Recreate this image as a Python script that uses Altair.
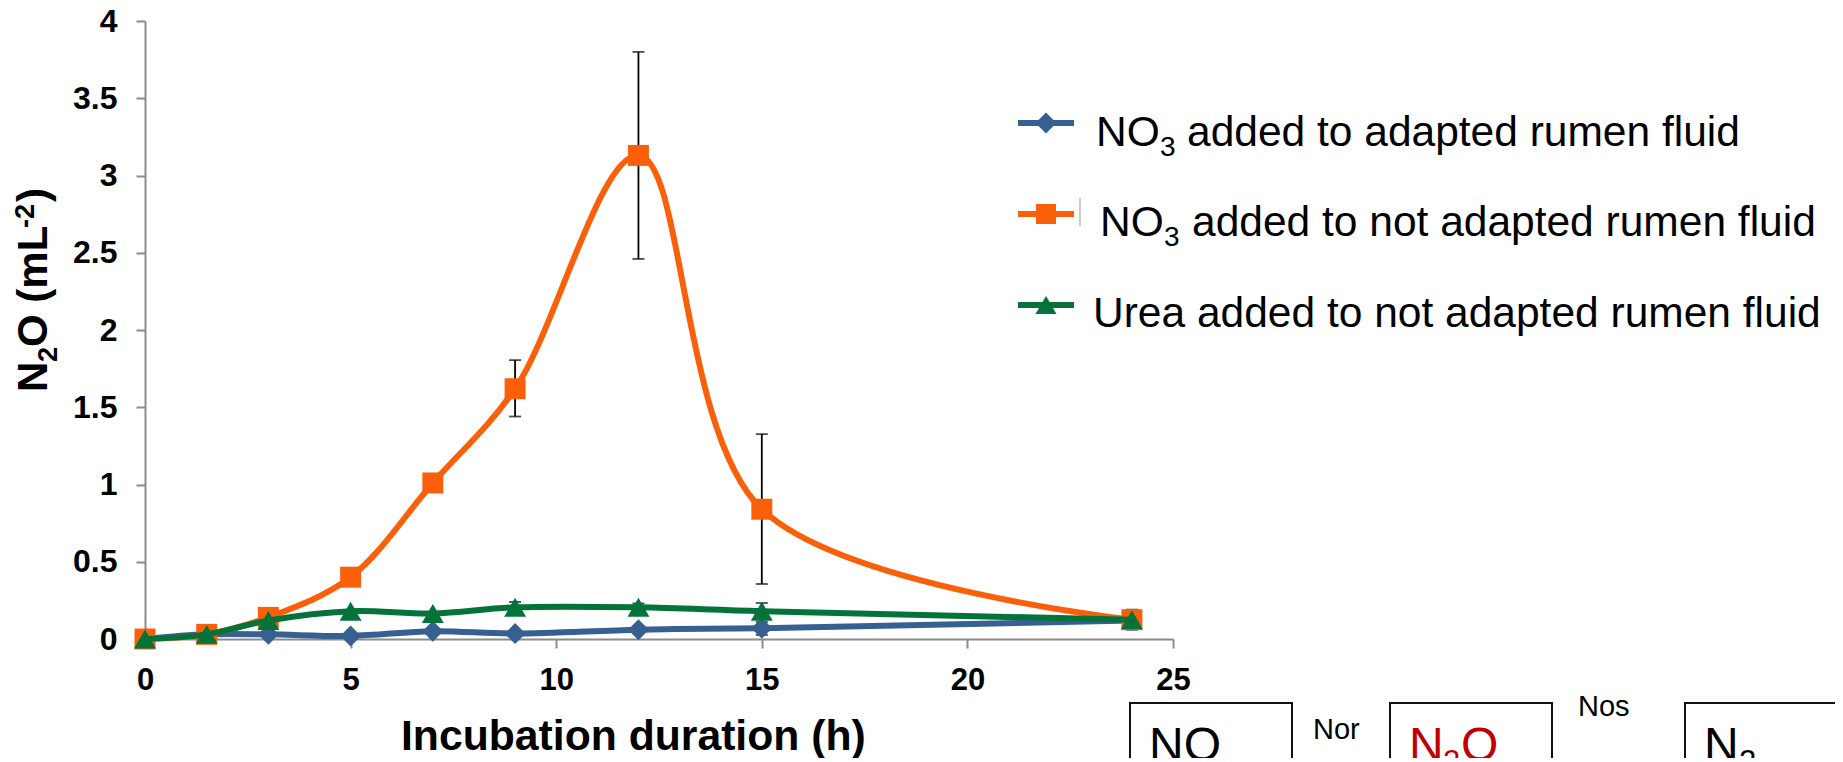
import altair as alt
import pandas as pd

hours = [0, 1.5, 3, 5, 7, 9, 12, 15, 24]
adapted = [0.0, 0.03, 0.03, 0.02, 0.05, 0.035, 0.06, 0.07, 0.12]
not_adapted = [0.0, 0.03, 0.14, 0.40, 1.01, 1.62, 3.13, 0.84, 0.125]
urea = [0.0, 0.03, 0.12, 0.18, 0.165, 0.205, 0.205, 0.18, 0.125]

err_x = [9, 12, 15, 9, 12, 15, 15, 24]
err_lo = [1.44, 2.46, 0.356, 0.17, 0.18, 0.13, 0.026, 0.06]
err_hi = [1.805, 3.80, 1.326, 0.24, 0.23, 0.233, 0.11, 0.19]

y_ticks = [0, 0.5, 1, 1.5, 2, 2.5, 3, 3.5, 4]
x_ticks = [0, 5, 10, 15, 20, 25]

BLUE, ORANGE, GREEN = "#376092", "#FA600A", "#03733A"
FONT = "Liberation Sans"
OX, OY = 145, 21
PW, PH = 1028, 618
one = pd.DataFrame({"a": [0]})

xs = alt.Scale(domain=[0, 25], nice=False, zero=False)
ys = alt.Scale(domain=[0, 4], nice=False)
x_axis = alt.Axis(values=x_ticks, title=None, grid=False, labelPadding=17, format="~g", labelFontSize=31)
y_axis = alt.Axis(values=y_ticks, title=None, grid=False, labelPadding=19, format="~g", labelFontSize=32)
x_enc = alt.X("x:Q", scale=xs, axis=x_axis)
y_enc = alt.Y("y:Q", scale=ys, axis=y_axis)
lo_enc = alt.Y("lo:Q", scale=ys, axis=y_axis)
hi_enc = alt.Y("hi:Q", scale=ys, axis=y_axis)


def label(t, x, y, size, color="black", bold=False, angle=0):
    return alt.Chart(one).mark_text(
        text=t, font=FONT, fontSize=size, color=color, align="left",
        baseline="alphabetic", fontWeight="bold" if bold else "normal", angle=angle,
    ).encode(x=alt.value(x - OX), y=alt.value(y - OY))


def box(x1, x2, y1=703, y2=800):
    return alt.Chart(one).mark_rect(fill="white", stroke="#111111", strokeWidth=2).encode(
        x=alt.value(x1 - OX), x2=alt.value(x2 - OX), y=alt.value(y1 - OY), y2=alt.value(y2 - OY))


def series(values, color, shape, size):
    d = pd.DataFrame({"x": hours, "y": values})
    line = alt.Chart(d).mark_line(color=color, strokeWidth=6, interpolate="catmull-rom").encode(x=x_enc, y=y_enc)
    pts = alt.Chart(d).mark_point(color=color, fill=color, filled=True, opacity=1, shape=shape, size=size).encode(x=x_enc, y=y_enc)
    return [line, pts]


def legend_key(y, color, shape, size):
    rule = alt.Chart(one).mark_rule(color=color, strokeWidth=6).encode(
        x=alt.value(1018 - OX), x2=alt.value(1074 - OX), y=alt.value(y - OY))
    pt = alt.Chart(one).mark_point(color=color, fill=color, filled=True, opacity=1, shape=shape, size=size).encode(
        x=alt.value(1046 - OX), y=alt.value(y - OY))
    return [rule, pt]


err = pd.DataFrame({"x": err_x, "lo": err_lo, "hi": err_hi})
err_rule = alt.Chart(err).mark_rule(color="black", strokeWidth=1.8).encode(x=x_enc, y=lo_enc, y2="hi:Q")
cap_lo = alt.Chart(err).mark_tick(color="black", orient="horizontal", size=12, thickness=1.8).encode(x=x_enc, y=lo_enc)
cap_hi = alt.Chart(err).mark_tick(color="black", orient="horizontal", size=12, thickness=1.8).encode(x=x_enc, y=hi_enc)

layers = [err_rule, cap_lo, cap_hi]
layers += series(adapted, BLUE, "diamond", 440)
layers += series(not_adapted, ORANGE, "square", 440)
layers += series(urea, GREEN, "triangle-up", 480)

layers += legend_key(123, BLUE, "diamond", 440)
layers += legend_key(214, ORANGE, "square", 400)
layers += legend_key(305, GREEN, "triangle-up", 440)
layers.append(alt.Chart(one).mark_rule(color="#999999", strokeWidth=1).encode(
    x=alt.value(1080 - OX), y=alt.value(198 - OY), y2=alt.value(226 - OY)))

layers += [
    label("NO", 1096, 146, 42.5), label("3", 1160, 156, 28),
    label("added to adapted rumen fluid", 1187, 146, 42.5),
    label("NO", 1100, 236, 42.5), label("3", 1164, 246, 28),
    label("added to not adapted rumen fluid", 1192, 236, 42.5),
    label("Urea added to not adapted rumen fluid", 1093, 327, 42.5),
    label("Incubation duration (h)", 401, 750, 42.7, bold=True),
    label("N", 47, 392, 42, bold=True, angle=270),
    label("2", 57, 362, 27, bold=True, angle=270),
    label("O (mL", 47, 347, 42, bold=True, angle=270),
    label("-2", 34, 228, 27, bold=True, angle=270),
    label(")", 47, 202, 42, bold=True, angle=270),
    box(1130, 1292), box(1390, 1552), box(1685, 1900),
    label("NO", 1149, 761, 48),
    label("N", 1409, 761, 48, color="#C00000"),
    label("2", 1443, 772, 31, color="#C00000"),
    label("O", 1461, 761, 48, color="#C00000"),
    label("N", 1704, 761, 48),
    label("2", 1739, 772, 31),
    label("Nor", 1313, 739, 29),
    label("Nos", 1578, 716, 29),
]

chart = alt.layer(*layers).properties(
    width=PW, height=PH,
    autosize=alt.AutoSizeParams(type="none"),
    padding={"left": OX - 8, "top": OY - 8, "right": 1827 - (OX - 8) - PW, "bottom": 750 - (OY - 8) - PH},
    background="white",
).configure_view(stroke=None).configure_axis(
    labelFont=FONT, labelFontWeight="bold", labelColor="black",
    domainColor="#8C8C8C", domainWidth=2, tickColor="#8C8C8C", tickWidth=2, tickSize=9,
    labelOverlap=False, labelFlush=False,
)

chart.save("out.html", embed_options={"renderer": "svg", "actions": False})
